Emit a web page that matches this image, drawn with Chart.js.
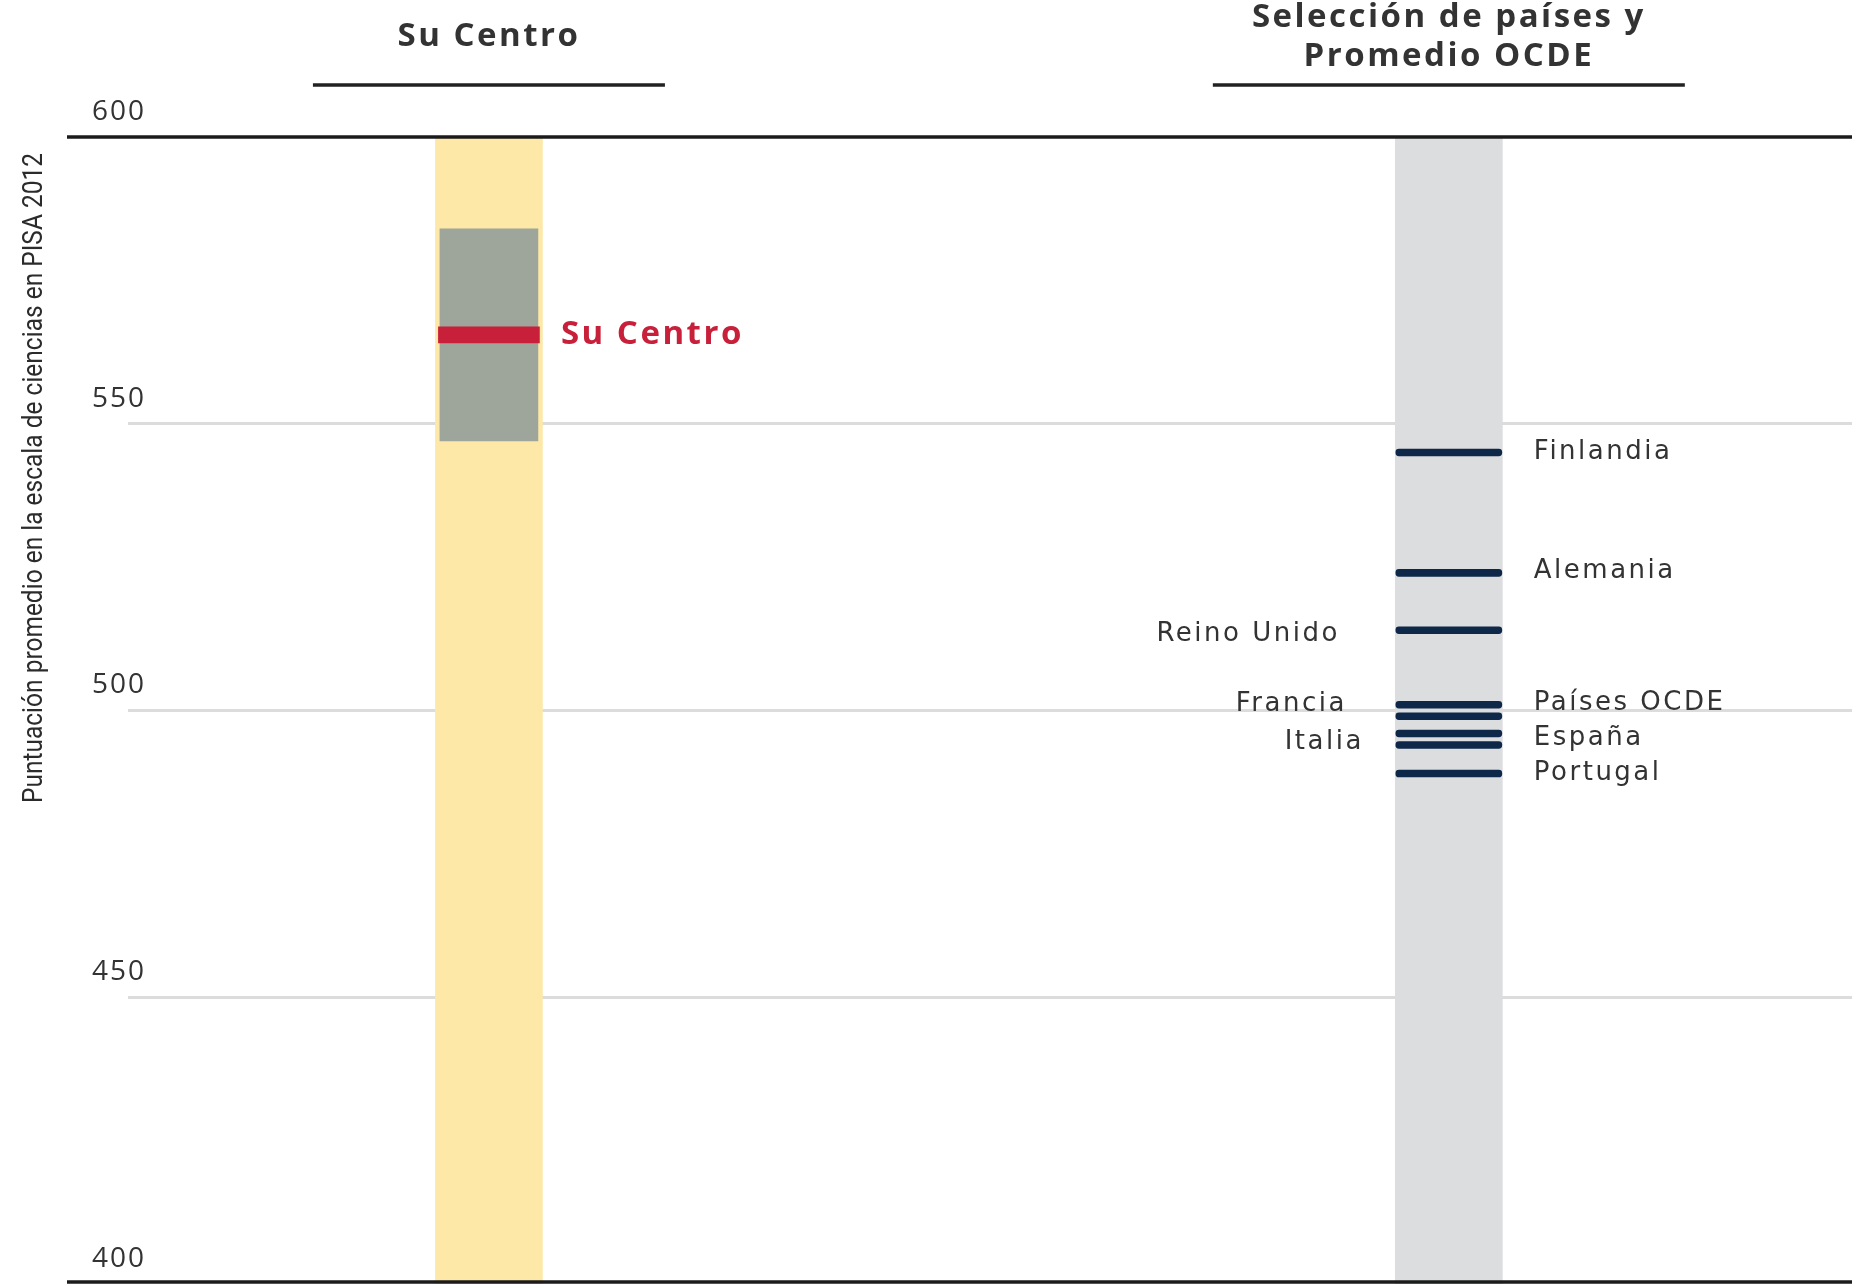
<!DOCTYPE html>
<html>
<head>
<meta charset="utf-8">
<script src="https://cdn.jsdelivr.net/npm/chart.js@4.4.0/dist/chart.umd.min.js"></script>
<style>
  html, body { margin: 0; padding: 0; background: #fff; }
</style>
</head>
<body>
<canvas id="pisa-chart" width="1852" height="1286"></canvas>
<script>
// Column headers and axis
const columnTitles = [['Su Centro'], ['Selección de países y', 'Promedio OCDE']];
const yTitle = 'Puntuación promedio en la escala de ciencias en PISA 2012';
const yTicks = [600, 550, 500, 450, 400];
const scaleRange = [400, 600];

// Su Centro: score and its range
const centroLabel = 'Su Centro';
const centroScore = 565.5;
const centroRange = [547, 584];

// Selected countries and OCDE average (PISA 2012, ciencias)
const countries = ['Finlandia', 'Alemania', 'Reino Unido', 'Países OCDE', 'Francia', 'España', 'Italia', 'Portugal'];
const countryScores = [545, 524, 514, 501, 499, 496, 494, 489];

// label placement: side of the band and small pixel nudges [dx, dy]
const labelSide = ['right', 'right', 'left', 'right', 'left', 'right', 'left', 'right'];
const labelNudge = [[0, 0], [0, -2], [-24, 4], [0, -2], [-17, -12], [0, 5], [0, -3], [0, 0]];

const COL_CENTRO = 0;
const COL_PAISES = 1;
const FONT = '"Open Sans", "DejaVu Sans", sans-serif';
const LABEL_FONT = '"DejaVu Sans", "Open Sans", sans-serif';

const textPlugin = {
    id: 'pisaText',
    afterDraw(chart) {
        const ctx = chart.ctx;
        const x = chart.scales.x;
        const y = chart.scales.y;

        ctx.save();

        // black frame lines at 600 and 400
        ctx.strokeStyle = '#1b1b1b';
        ctx.lineWidth = 3.5;
        [scaleRange[1], scaleRange[0]].forEach(v => {
            const py = Math.round(y.getPixelForValue(v)) - (v === scaleRange[0] ? 2 : 0);
            ctx.beginPath();
            ctx.moveTo(67, py);
            ctx.lineTo(chart.width, py);
            ctx.stroke();
        });

        // tick labels, sitting above their lines
        ctx.fillStyle = '#333';
        ctx.font = '28px ' + FONT;
        ctx.letterSpacing = '2px';
        ctx.textAlign = 'left';
        ctx.textBaseline = 'middle';
        yTicks.forEach(v => {
            ctx.fillText(String(v), 92, y.getPixelForValue(v) - 25);
        });

        // rotated axis title, condensed to its length in the original
        ctx.save();
        ctx.letterSpacing = '0px';
        ctx.font = '27px Roboto, ' + FONT;
        ctx.fillStyle = '#2b2b2b';
        const w = ctx.measureText(yTitle).width;
        ctx.translate(35, 478);
        ctx.rotate(-Math.PI / 2);
        ctx.scale(650 / w, 1);
        ctx.textAlign = 'center';
        ctx.fillText(yTitle, 0, 0);
        ctx.restore();

        // column titles with underline
        ctx.font = 'bold 33px ' + FONT;
        ctx.letterSpacing = '2.5px';
        ctx.textAlign = 'center';
        ctx.fillStyle = '#333';
        const underHalf = [176, 236];
        columnTitles.forEach((lines, i) => {
            const cx = x.getPixelForValue(i);
            const top = 37 - (lines.length - 1) * 19.5;
            lines.forEach((t, j) => ctx.fillText(t, cx, top + j * 39));
            ctx.lineWidth = 3.5;
            ctx.strokeStyle = '#222';
            ctx.beginPath();
            ctx.moveTo(cx - underHalf[i], 85);
            ctx.lineTo(cx + underHalf[i], 85);
            ctx.stroke();
        });

        // Su Centro label
        ctx.font = 'bold 33px ' + FONT;
        ctx.fillStyle = '#c8203a';
        ctx.textAlign = 'left';
        ctx.letterSpacing = '2.5px';
        ctx.fillText(centroLabel, x.getPixelForValue(COL_CENTRO) + 72, y.getPixelForValue(centroScore));

        // country labels
        ctx.font = '26px ' + LABEL_FONT;
        ctx.fillStyle = '#333';
        ctx.letterSpacing = '2.5px';
        const bandX = x.getPixelForValue(COL_PAISES);
        countries.forEach((name, i) => {
            const py = y.getPixelForValue(countryScores[i]) + labelNudge[i][1];
            if (labelSide[i] === 'right') {
                ctx.textAlign = 'left';
                ctx.fillText(name, bandX + 85 + labelNudge[i][0], py);
            } else {
                ctx.textAlign = 'right';
                ctx.fillText(name, bandX - 85 + labelNudge[i][0], py);
            }
        });

        ctx.restore();
    }
};

const markerHalf = 0.6; // half thickness of a country marker, in score points
const redHalf = 1.4;

new Chart(document.getElementById('pisa-chart'), {
    type: 'bar',
    data: {
        datasets: [
            {
                label: 'Países',
                data: countryScores.map(v => ({ x: COL_PAISES, y: [v - markerHalf, v + markerHalf] })),
                backgroundColor: '#0d2848',
                barThickness: 106,
                borderRadius: 4,
                borderSkipped: false,
                order: 1
            },
            {
                label: centroLabel,
                data: [{ x: COL_CENTRO, y: [centroScore - redHalf, centroScore + redHalf] }],
                backgroundColor: '#c8203a',
                barThickness: 101,
                order: 1
            },
            {
                label: 'Rango',
                data: [{ x: COL_CENTRO, y: centroRange }],
                backgroundColor: '#9ea59a',
                barThickness: 98,
                order: 2
            },
            {
                label: 'Escala',
                data: [{ x: COL_CENTRO, y: scaleRange }, { x: COL_PAISES, y: scaleRange }],
                backgroundColor: ['#fde8a7', '#dcdddf'],
                barThickness: 107,
                order: 3
            }
        ]
    },
    options: {
        responsive: false,
        animation: false,
        layout: { padding: { left: 128, right: 0, top: 137, bottom: 2 } },
        datasets: { bar: { grouped: false } },
        plugins: {
            legend: { display: false },
            tooltip: { enabled: false }
        },
        scales: {
            x: {
                type: 'linear',
                offset: false,
                min: -0.376,
                max: 1.42,
                display: false
            },
            y: {
                min: scaleRange[0],
                max: scaleRange[1],
                ticks: { stepSize: 50, display: false },
                border: { display: false },
                grid: {
                    drawTicks: false,
                    lineWidth: 3,
                    color: c => (c.tick.value === 400 || c.tick.value === 600) ? 'rgba(0,0,0,0)' : '#dcdcdc'
                }
            }
        }
    },
    plugins: [textPlugin]
});
</script>
</body>
</html>
